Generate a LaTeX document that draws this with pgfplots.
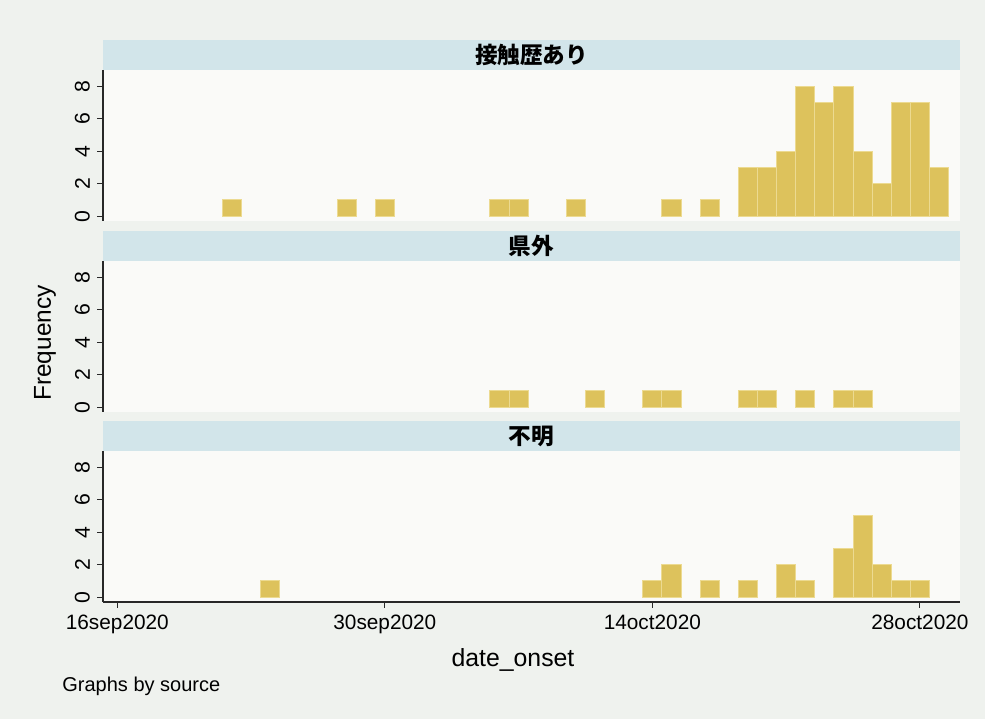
\documentclass[border=0pt]{standalone}
\usepackage{fontspec}
\setmainfont{Liberation Sans}
\newfontfamily\cjk{Noto Sans CJK JP}
\usepackage{pgfplots}
\pgfplotsset{compat=1.18}
\definecolor{bgcol}{RGB}{239,242,238}
\definecolor{plotcol}{RGB}{250,250,248}
\definecolor{stripcol}{RGB}{210,229,234}
\definecolor{barcol}{RGB}{221,194,92}
\definecolor{baredge}{RGB}{236,218,145}
\definecolor{axcol}{RGB}{40,40,40}

\pgfplotsset{
  panel/.style={
    scale only axis, width=428.5pt, height=75.5pt,
    xmin=-0.75, xmax=44.1, ymin=-0.3, ymax=9,
    anchor=north west,
    axis y line*=left,
    ytick={0,2,4,6,8},
    yticklabel style={rotate=90, anchor=south, font=\fontsize{10.6}{12}\selectfont},
    /pgf/number format/assume math mode=true,
    tick align=outside, major tick length=3pt,
    every tick/.style={axcol, line width=0.6pt},
    axis line style={axcol, line width=0.6pt},
    axis background/.style={fill=plotcol},
    clip=false,
    ybar, bar width=1, bar shift=0pt,
  },
  bars/.style={fill=barcol, draw=baredge, line width=0.5pt},
}
\newcommand{\strip}[1]{%
  \fill[stripcol] (rel axis cs:0,1) rectangle ([yshift=15pt]rel axis cs:1,1);
  \node[font=\cjk\bfseries\fontsize{11.3}{13}\selectfont] at ([yshift=7.5pt]rel axis cs:0.5,1) {#1};
}

\begin{document}
\begin{tikzpicture}
\useasboundingbox (0,0) rectangle (492.5pt,359.5pt);
\fill[bgcol] (0,0) rectangle (492.5pt,359.5pt);

% Panel 1
\begin{axis}[panel, at={(51.5pt,324.5pt)}, axis x line=none]
\addplot[bars] coordinates {
(6,1) (12,1) (14,1) (20,1) (21,1) (24,1) (29,1) (31,1)
(33,3) (34,3) (35,4) (36,8) (37,7) (38,8) (39,4) (40,2) (41,7) (42,7) (43,3)
};
\strip{接触歴あり}
\end{axis}

% Panel 2
\begin{axis}[panel, at={(51.5pt,229pt)}, axis x line=none]
\addplot[bars] coordinates {
(20,1) (21,1) (25,1) (28,1) (29,1) (33,1) (34,1) (36,1) (38,1) (39,1)
};
\strip{県外}
\end{axis}

% Panel 3
\begin{axis}[panel, at={(51.5pt,134pt)}, axis x line*=bottom,
  xtick={0,14,28,42},
  xticklabels={16sep2020,30sep2020,14oct2020,28oct2020},
  xticklabel style={font=\fontsize{10.4}{12}\selectfont}]
\addplot[bars] coordinates {
(8,1) (28,1) (29,2) (31,1) (33,1) (35,2) (36,1) (38,3) (39,5) (40,2) (41,1) (42,1)
};
\strip{不明}
\end{axis}

\node[rotate=90, font=\fontsize{12.2}{14}\selectfont] at (22.5pt,188pt) {Frequency};
\node[font=\fontsize{12.4}{14}\selectfont] at (256.5pt,29.5pt) {date\_onset};
\node[anchor=west, inner sep=0pt, font=\fontsize{10}{12}\selectfont] at (31pt,16.5pt) {Graphs by source};
\end{tikzpicture}
\end{document}
